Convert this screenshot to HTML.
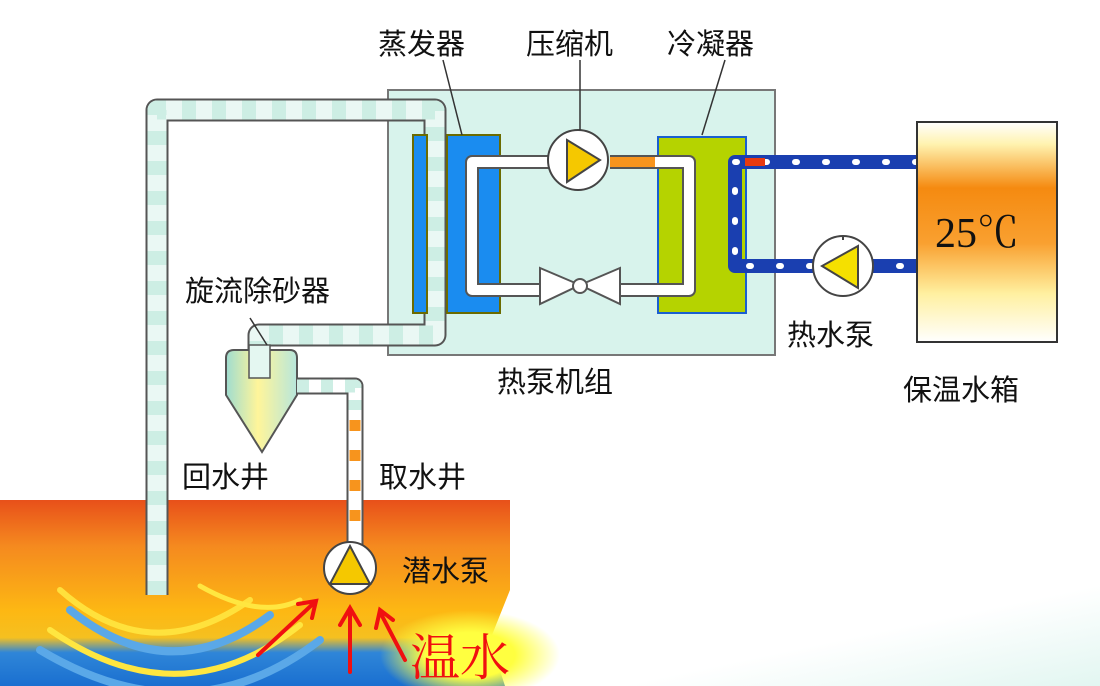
<!DOCTYPE html>
<html><head><meta charset="utf-8"><style>
html,body{margin:0;padding:0;background:#fff}
svg{display:block}
text{font-family:"Liberation Sans","Noto Sans CJK SC",sans-serif;fill:#111}
</style></head><body>
<svg width="1100" height="686" viewBox="0 0 1100 686" xmlns="http://www.w3.org/2000/svg">
<defs>
<linearGradient id="gnd" x1="0" y1="0" x2="0" y2="1">
<stop offset="0" stop-color="#e8501a"/>
<stop offset="0.25" stop-color="#f58a1f"/>
<stop offset="0.6" stop-color="#fdb813"/>
<stop offset="0.74" stop-color="#f5c020"/>
<stop offset="0.82" stop-color="#2f86d8"/>
<stop offset="1" stop-color="#1a6fd0"/>
</linearGradient>
<linearGradient id="tank" x1="0" y1="0" x2="0" y2="1">
<stop offset="0" stop-color="#fff"/>
<stop offset="0.1" stop-color="#fff3b0"/>
<stop offset="0.3" stop-color="#f58a10"/>
<stop offset="0.55" stop-color="#f9a030"/>
<stop offset="0.78" stop-color="#fff0a0"/>
<stop offset="1" stop-color="#fff"/>
</linearGradient>
<linearGradient id="sep" x1="0" y1="0" x2="1" y2="0">
<stop offset="0" stop-color="#9fdcd0"/>
<stop offset="0.45" stop-color="#fff59a"/>
<stop offset="1" stop-color="#b7e6dc"/>
</linearGradient>
<linearGradient id="rb" x1="0" y1="0" x2="1" y2="1">
<stop offset="0" stop-color="#fff"/>
<stop offset="0.6" stop-color="#fff"/>
<stop offset="1" stop-color="#e2f6f1"/>
</linearGradient>
<radialGradient id="glow" cx="0.5" cy="0.5" r="0.5">
<stop offset="0.5" stop-color="#ffff40"/>
<stop offset="1" stop-color="#ffff40" stop-opacity="0"/>
</radialGradient>
</defs>

<rect x="500" y="560" width="600" height="126" fill="url(#rb)"/>
<path d="M0,500 H510 V590 L490,640 L505,686 H0 Z" fill="url(#gnd)"/>
<g fill="none" stroke-linecap="round">
<path d="M60,590 Q150,670 250,600" stroke="#ffe640" stroke-width="6" opacity="0.9"/>
<path d="M70,610 Q170,690 270,615" stroke="#5aa8e8" stroke-width="8"/>
<path d="M50,630 Q180,720 300,625" stroke="#ffe640" stroke-width="6"/>
<path d="M40,650 Q190,740 320,640" stroke="#5aa8e8" stroke-width="8"/>
<path d="M200,586 Q260,620 300,600" stroke="#ffe640" stroke-width="5"/>
</g>
<ellipse cx="470" cy="655" rx="90" ry="45" fill="url(#glow)"/>

<rect x="388" y="90" width="387" height="265" fill="#d8f3ec" stroke="#777" stroke-width="2"/>

<g fill="none" stroke-linejoin="round">
<path d="M157,595 V110 H435 V335 H259 V380" stroke="#555" stroke-width="23"/>
<path d="M157,595 V110 H435 V335 H259 V380" stroke="#eaf8f4" stroke-width="19"/>
<path d="M157,595 V110 H435 V335 H259 V380" stroke="#cdeee4" stroke-width="19" stroke-dasharray="14 16"/>
</g>

<path d="M226,358 Q226,350 234,350 H290 Q297,350 297,358 V395 L262,452 L226,395 Z" fill="url(#sep)" stroke="#555" stroke-width="2"/>
<rect x="249" y="345" width="21" height="33" fill="#e4f7f1" stroke="#555" stroke-width="1.5"/>
<g fill="none" stroke-linejoin="round">
<path d="M297,386 H355 V545" stroke="#555" stroke-width="17"/>
<path d="M297,386 H355 V545" stroke="#fff" stroke-width="13"/>
<path d="M297,386 H355 V410" stroke="#cdeee4" stroke-width="13" stroke-dasharray="12 12"/>
<path d="M355,420 V540" stroke="#f7941d" stroke-width="11" stroke-dasharray="11 19"/>
</g>
<line x1="267" y1="345" x2="250" y2="318" stroke="#333" stroke-width="1.5"/>

<rect x="413" y="135" width="14" height="178" fill="#1a8cf0" stroke="#6b6b00" stroke-width="2"/>
<rect x="447" y="135" width="53" height="178" fill="#1a8cf0" stroke="#6b6b00" stroke-width="2"/>
<rect x="658" y="137" width="88" height="176" fill="#b5d300" stroke="#1a5fd0" stroke-width="2"/>
<g fill="none" stroke-linejoin="round">
<path d="M550,162 H472 V290 H540" stroke="#555" stroke-width="14"/>
<path d="M550,162 H472 V290 H540" stroke="#fff" stroke-width="10"/>
<path d="M620,290 H689 V162 H610" stroke="#555" stroke-width="14"/>
<path d="M620,290 H689 V162 H610" stroke="#fff" stroke-width="10"/>
<path d="M610,162 H655" stroke="#f7941d" stroke-width="10"/>
</g>
<circle cx="578" cy="160" r="30" fill="#fff" stroke="#444" stroke-width="2"/>
<path d="M567,140 L600,160 L567,182 Z" fill="#f5c800" stroke="#444" stroke-width="2"/>
<path d="M540,268 L580,285 L540,304 Z M620,268 L580,285 L620,304 Z" fill="#fff" stroke="#555" stroke-width="2"/>
<circle cx="580" cy="286" r="7" fill="#fff" stroke="#555" stroke-width="2"/>

<g fill="none" stroke-linejoin="round">
<path d="M917,162 H735 V266 H917" stroke="#1a3fb0" stroke-width="14"/>
<path d="M917,162 H735 V266 H917" stroke="#fff" stroke-width="6" stroke-dasharray="2 28" stroke-linecap="round"/>
<path d="M745,162 H765" stroke="#e83a10" stroke-width="8"/>
</g>
<circle cx="843" cy="266" r="30" fill="#fff" stroke="#444" stroke-width="2"/>
<path d="M858,246 L822,266 L858,288 Z" fill="#f5e000" stroke="#444" stroke-width="2"/>
<line x1="843" y1="236" x2="843" y2="240" stroke="#444" stroke-width="2"/>

<rect x="917" y="122" width="140" height="220" fill="url(#tank)" stroke="#333" stroke-width="2"/>
<text x="935" y="247" font-size="42" style="font-family:'Liberation Serif','Noto Serif CJK SC',serif">25℃</text>

<circle cx="350" cy="568" r="26" fill="#fff" stroke="#444" stroke-width="2"/>
<path d="M350,546 L370,584 L330,584 Z" fill="#f5c800" stroke="#444" stroke-width="2"/>

<g stroke="#f01010" stroke-width="4" fill="none" stroke-linecap="round">
<path d="M258,655 L315,602 M298,604 L316,601 L312,618"/>
<path d="M350,672 V612 M340,625 L350,608 L360,625"/>
<path d="M405,660 L380,612 M376,628 L380,610 L393,620"/>
</g>

<g stroke="#333" stroke-width="1.5">
<line x1="443" y1="60" x2="462" y2="135"/>
<line x1="580" y1="60" x2="580" y2="130"/>
<line x1="725" y1="60" x2="702" y2="135"/>
</g>

<g font-size="29">
<text x="378" y="54">蒸发器</text>
<text x="526" y="54">压缩机</text>
<text x="667" y="54">冷凝器</text>
<text x="787" y="345">热水泵</text>
<text x="903" y="400">保温水箱</text>
<text x="497" y="392">热泵机组</text>
<text x="185" y="301">旋流除砂器</text>
<text x="182" y="487">回水井</text>
<text x="379" y="487">取水井</text>
<text x="402" y="581">潜水泵</text>
</g>
<text x="410" y="675" font-size="50" style="font-family:'Liberation Serif','Noto Serif CJK SC',serif;fill:#f01010">温水</text>
</svg>
</body></html>
